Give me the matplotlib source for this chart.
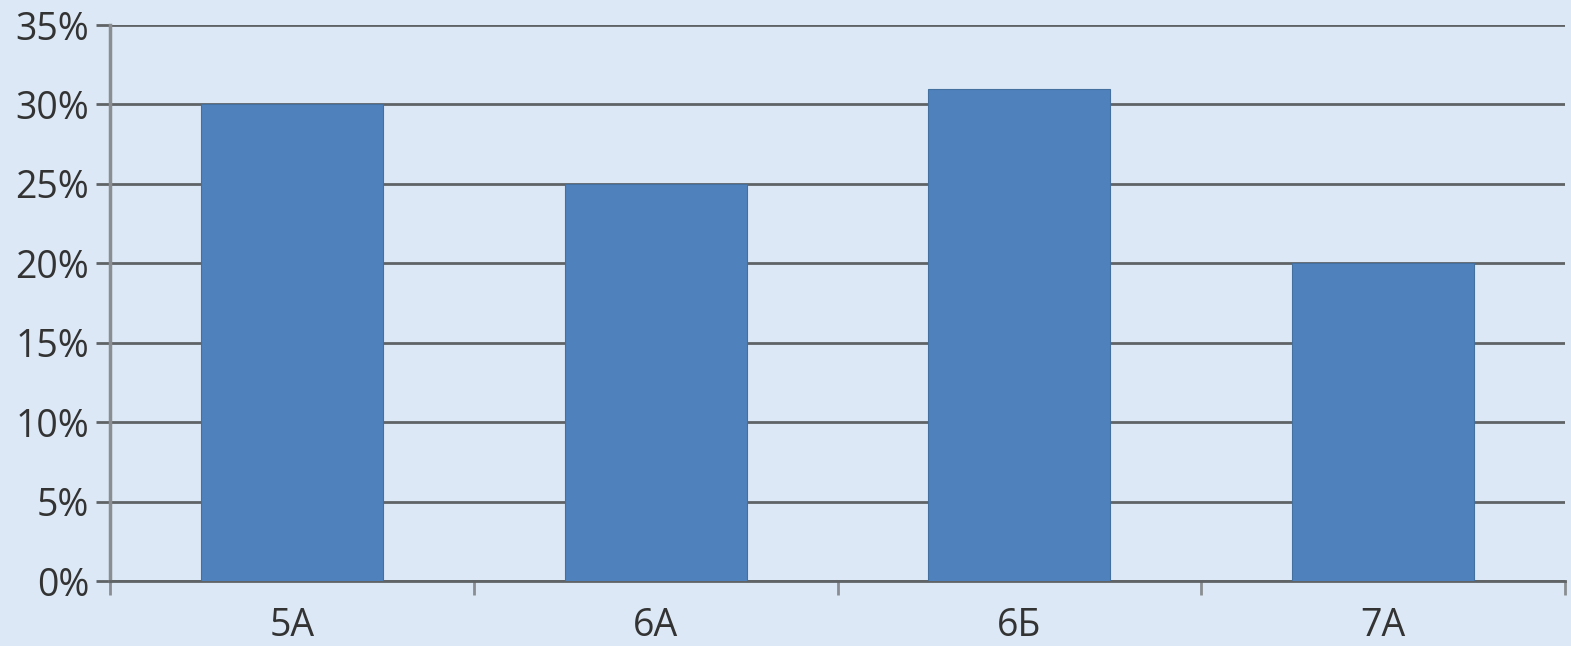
import matplotlib.pyplot as plt
from matplotlib.ticker import FuncFormatter, MultipleLocator

# Share of pupils per class
classes = ["5А", "6А", "6Б", "7А"]
shares = [30, 25, 31, 20]

bg = "#dce8f5"
grid_col = "#5f6366"

fig = plt.figure(figsize=(15.71, 6.46), dpi=100, facecolor=bg)
ax = fig.add_axes([110 / 1571, 1 - 581 / 646, (1565 - 110) / 1571, (581 - 25) / 646])
ax.set_facecolor(bg)

x = range(len(classes))
ax.bar(x, shares, width=0.5, color="#4f81bd", edgecolor="#44709f", linewidth=0.8, zorder=3)

ax.set_xlim(-0.5, len(classes) - 0.5)
ax.set_ylim(0, 35)
ax.yaxis.set_major_locator(MultipleLocator(5))
ax.yaxis.set_major_formatter(FuncFormatter(lambda v, p: f"{v:.0f}%"))
ax.grid(axis="y", color=grid_col, linewidth=2, zorder=1)

# category separators as tick marks below the axis
ax.set_xticks([i - 0.5 for i in range(len(classes) + 1)], minor=False)
ax.set_xticklabels([])
ax.set_xticks(list(x), minor=True)
ax.set_xticklabels(classes, minor=True)
ax.tick_params(axis="x", which="major", length=10, width=2, color="#8a8e92", direction="out")
ax.tick_params(axis="x", which="minor", length=0, pad=19)
ax.tick_params(axis="y", length=10, width=2, color=grid_col, pad=5)

for lab in ax.get_xticklabels(minor=True) + ax.get_yticklabels():
    lab.set_fontfamily("Open Sans")
    lab.set_fontsize(27)
    lab.set_color("#333333")

for side in ["top", "right"]:
    ax.spines[side].set_visible(False)
ax.spines["left"].set_color("#8a8e92")
ax.spines["left"].set_linewidth(2.5)
ax.spines["bottom"].set_color(grid_col)
ax.spines["bottom"].set_linewidth(2)

fig.savefig("out.png", dpi=100, facecolor=bg)
